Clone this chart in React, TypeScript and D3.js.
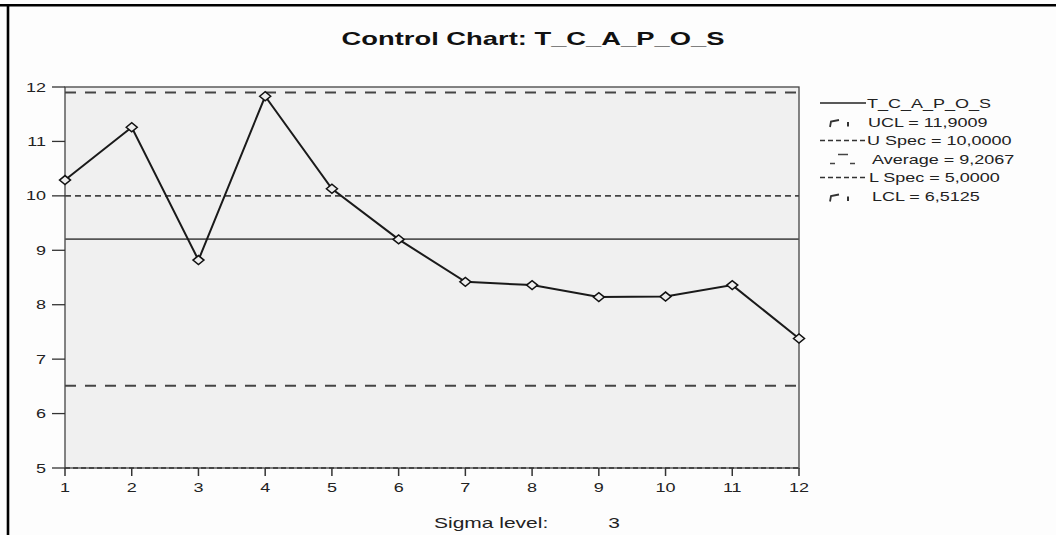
import React from "react";
import * as d3 from "d3";

const samples = [1, 2, 3, 4, 5, 6, 7, 8, 9, 10, 11, 12];
const values = [10.29, 11.26, 8.82, 11.83, 10.13, 9.2, 8.42, 8.36, 8.14, 8.15, 8.36, 7.38];
const yTicks = [5, 6, 7, 8, 9, 10, 11, 12];
const UCL = 11.9009;
const USPEC = 10.0;
const AVG = 9.2067;
const LSPEC = 5.0;
const LCL = 6.5125;
const legendLabels = [
  "T_C_A_P_O_S",
  "UCL = 11,9009",
  "U Spec = 10,0000",
  "Average = 9,2067",
  "L Spec = 5,0000",
  "LCL = 6,5125",
];
const title = "Control Chart: T_C_A_P_O_S";
const sigmaLabel = "Sigma level:";
const sigmaValue = "3";

const FONT = "'Liberation Sans', Arial, sans-serif";

function ST(props: { x: number; y: number; size: number; anchor?: string; weight?: string; sx?: number; children: any; fill?: string }) {
  const { x, y, size, anchor = "start", weight = "normal", sx = 1.5, children, fill = "#222" } = props;
  return (
    <text
      transform={`translate(${x},${y}) scale(${sx},1)`}
      fontFamily={FONT}
      fontSize={size}
      fontWeight={weight}
      textAnchor={anchor}
      fill={fill}
    >
      {children}
    </text>
  );
}

export default function App() {
  const W = 1056;
  const H = 535;
  const left = 65, right = 799, top = 87, bottom = 468;
  const x = d3.scaleLinear().domain([1, 12]).range([left, right]);
  const y = d3.scaleLinear().domain([5, 12]).range([bottom, top]);
  const line = d3.line<number>().x((_, i) => x(samples[i])).y((d) => y(d));

  const legendBase = [108, 126.5, 145, 163.5, 182, 201];
  const lx0 = 820, lx1 = 866;

  return (
    <svg width={W} height={H} style={{ position: "absolute", left: 0, top: 0, background: "#fdfdfd" }}>
      <rect x={0} y={0} width={W} height={H} fill="#fdfdfd" />
      {/* outer frame */}
      <line x1={0} x2={W} y1={5.3} y2={5.3} stroke="#000" strokeWidth={2.6} />
      <line x1={8} x2={8} y1={4} y2={H} stroke="#000" strokeWidth={2.6} />

      <ST x={533} y={45} size={18} weight="bold" anchor="middle" sx={1.52} fill="#111">{title}</ST>

      {/* plot area */}
      <rect x={left} y={top} width={right - left} height={bottom - top} fill="#f0f0f0" stroke="#444" strokeWidth={1.3} />

      {/* control / spec lines */}
      <line x1={left} x2={right} y1={y(UCL)} y2={y(UCL)} stroke="#444" strokeWidth={2} strokeDasharray="11,9" />
      <line x1={left} x2={right} y1={y(LCL)} y2={y(LCL)} stroke="#444" strokeWidth={2} strokeDasharray="11,9" />
      <line x1={left} x2={right} y1={y(USPEC)} y2={y(USPEC)} stroke="#444" strokeWidth={1.6} strokeDasharray="6,4" />
      <line x1={left} x2={right} y1={y(AVG)} y2={y(AVG)} stroke="#555" strokeWidth={1.8} />
      <line x1={left} x2={right} y1={y(LSPEC)} y2={y(LSPEC)} stroke="#333" strokeWidth={1.6} strokeDasharray="5,3" />

      {/* y axis ticks */}
      {yTicks.map((t) => (
        <g key={"y" + t}>
          <line x1={52} x2={left} y1={y(t)} y2={y(t)} stroke="#333" strokeWidth={1.3} />
          <ST x={46} y={y(t) + 4.5} size={12} anchor="end">{t}</ST>
        </g>
      ))}
      {/* x axis ticks */}
      {samples.map((s) => (
        <g key={"x" + s}>
          <line x1={x(s)} x2={x(s)} y1={bottom} y2={bottom + 8} stroke="#333" strokeWidth={1.5} />
          <ST x={x(s)} y={492} size={12} anchor="middle">{s}</ST>
        </g>
      ))}

      {/* data */}
      <path d={line(values) || ""} fill="none" stroke="#1a1a1a" strokeWidth={2} />
      {values.map((v, i) => {
        const cx = x(samples[i]);
        const cy = y(v);
        return (
          <path
            key={"m" + i}
            d={`M${cx - 5.5},${cy} L${cx},${cy - 4.5} L${cx + 5.5},${cy} L${cx},${cy + 4.5} Z`}
            fill="#eee"
            stroke="#111"
            strokeWidth={1.5}
          />
        );
      })}

      {/* legend */}
      <line x1={lx0} x2={lx1} y1={legendBase[0] - 5} y2={legendBase[0] - 5} stroke="#222" strokeWidth={1.5} />
      {/* UCL symbol */}
      <path d={`M830,${legendBase[1] + 0.5} L831,${legendBase[1] - 5} L839,${legendBase[1] - 6.5}`} fill="none" stroke="#333" strokeWidth={1.8} />
      <line x1={848} x2={848} y1={legendBase[1] - 4.5} y2={legendBase[1]} stroke="#333" strokeWidth={2} />
      <line x1={lx0} x2={lx1} y1={legendBase[2] - 4.5} y2={legendBase[2] - 4.5} stroke="#333" strokeWidth={1.5} strokeDasharray="5,3" />
      {/* Average symbol */}
      <line x1={838} x2={848} y1={legendBase[3] - 9} y2={legendBase[3] - 9} stroke="#444" strokeWidth={1.5} />
      <line x1={830} x2={835} y1={legendBase[3] + 0} y2={legendBase[3] + 0} stroke="#444" strokeWidth={1.5} />
      <line x1={850} x2={855} y1={legendBase[3] + 0} y2={legendBase[3] + 0} stroke="#444" strokeWidth={1.5} />
      <line x1={lx0} x2={lx1} y1={legendBase[4] - 4.5} y2={legendBase[4] - 4.5} stroke="#333" strokeWidth={1.5} strokeDasharray="5,3" />
      {/* LCL symbol */}
      <path d={`M830,${legendBase[5] + 0.5} L831,${legendBase[5] - 5} L839,${legendBase[5] - 6.5}`} fill="none" stroke="#333" strokeWidth={1.8} />
      <line x1={848} x2={848} y1={legendBase[5] - 4.5} y2={legendBase[5]} stroke="#333" strokeWidth={2} />

      {legendLabels.map((lab, i) => (
        <ST key={"l" + i} x={[867, 868, 867, 872, 869, 872][i]} y={legendBase[i]} size={12}>{lab}</ST>
      ))}

      <ST x={434} y={528} size={14}>{sigmaLabel}</ST>
      <ST x={614} y={528} size={14} anchor="middle">{sigmaValue}</ST>
    </svg>
  );
}
